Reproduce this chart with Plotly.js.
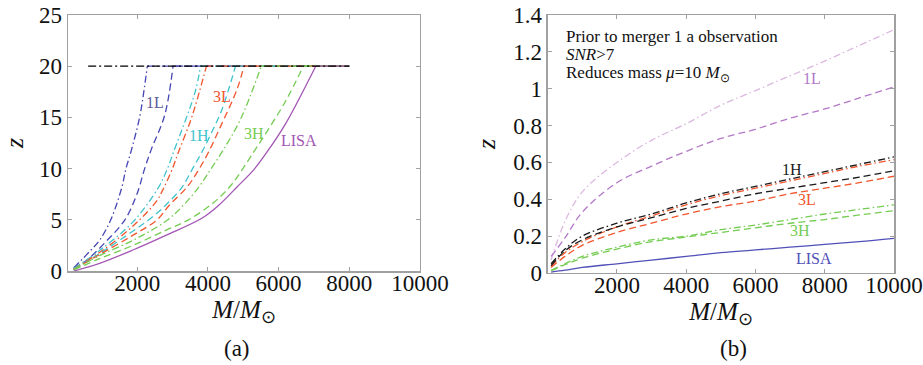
<!DOCTYPE html>
<html><head><meta charset="utf-8">
<script src="https://cdn.plot.ly/plotly-3.0.1.min.js"></script>
<style>html,body{margin:0;padding:0;background:#fff}#chart{width:923px;height:365px}</style>
</head><body><div id="chart"></div>
<script>
// ---------- Panel (a) data: M/Msun (x) and z ----------
const a_1L_dd_x = [200, 650, 932, 1250, 1565, 1680, 1821, 2066, 2180, 2284];
const a_1L_dd_z = [0.3, 1.9, 3.0, 5.0, 8.2, 10, 11.65, 15, 17.4, 20];
const a_1L_da_x = [200, 553, 1121, 1650, 2000, 2200, 2400, 2775, 3012];
const a_1L_da_z = [0.2, 1.0, 2.9, 5.0, 7.6, 9.9, 11.9, 15.2, 20];
const a_1H_dd_x = [200, 930, 1880, 2605, 2842, 3030, 3630, 3790];
const a_1H_dd_z = [0.25, 2.0, 4.8, 8.2, 9.9, 11.65, 17.4, 20];
const a_3L_dd_x = [200, 930, 1880, 2540, 2760, 2984, 3170, 3500, 3700, 3958];
const a_3L_dd_z = [0.2, 1.8, 4.4, 6.8, 8.2, 9.9, 11.65, 14.6, 16.8, 20];
const a_1H_da_x = [200, 930, 1880, 2400, 2823, 3270, 3550, 3835, 4100, 4400, 4780];
const a_1H_da_z = [0.2, 1.7, 3.9, 5.2, 6.5, 8.2, 9.9, 11.65, 13.5, 15.8, 20];
const a_3L_da_x = [200, 930, 1880, 2560, 2900, 3410, 3740, 4023, 4355, 4830, 5017];
const a_3L_da_z = [0.15, 1.6, 3.5, 5.0, 6.4, 8.2, 9.9, 11.65, 14.1, 17.8, 20];
const a_3H_dd_x = [200, 930, 1880, 2823, 3300, 3740, 4071, 4403, 4920, 5510];
const a_3H_dd_z = [0.15, 1.5, 3.0, 4.9, 6.4, 8.2, 9.9, 11.65, 14.8, 20];
const a_3H_da_x = [200, 932, 1877, 2823, 3450, 4166, 4620, 4970, 5300, 5630, 6200, 6700];
const a_3H_da_z = [0.1, 1.2, 2.5, 4.0, 5.0, 6.7, 8.23, 9.9, 11.65, 13.4, 16.6, 20];
const a_LISA_x = [200, 932, 1877, 2823, 3850, 4300, 4830, 5300, 5678, 6200, 7050];
const a_LISA_z = [0.0, 0.75, 2.05, 3.5, 5.2, 6.4, 8.23, 9.9, 11.65, 14.4, 20];
const a_plateau_end = 8000;           // curves stay on z = 20 up to here
const a_limit_x = [610, 8000];        // black dash-dot z = 20 line
const a_limit_z = [20, 20];

// ---------- Panel (b) data ----------
const b_x = [100, 500, 1000, 2000, 3000, 4000, 5000, 6000, 7000, 8000, 9000, 10000];
const b_1L_dd = [0.07, 0.28, 0.44, 0.60, 0.72, 0.81, 0.91, 0.99, 1.07, 1.15, 1.235, 1.32];
const b_1L_da = [0.09, 0.19, 0.33, 0.49, 0.58, 0.66, 0.73, 0.78, 0.84, 0.89, 0.95, 1.01];
const b_1H_dd = [0.05, 0.13, 0.20, 0.27, 0.32, 0.38, 0.43, 0.47, 0.51, 0.55, 0.59, 0.63];
const b_3L_dd = [0.035, 0.11, 0.17, 0.25, 0.31, 0.37, 0.42, 0.46, 0.50, 0.54, 0.58, 0.615];
const b_1H_da = [0.04, 0.12, 0.18, 0.25, 0.30, 0.35, 0.39, 0.43, 0.46, 0.49, 0.52, 0.555];
const b_3L_da = [0.03, 0.09, 0.15, 0.22, 0.27, 0.32, 0.36, 0.39, 0.43, 0.46, 0.49, 0.525];
const b_3H_dd = [0.015, 0.05, 0.09, 0.14, 0.18, 0.20, 0.235, 0.26, 0.29, 0.32, 0.345, 0.37];
const b_3H_da = [0.012, 0.045, 0.08, 0.13, 0.17, 0.195, 0.22, 0.245, 0.27, 0.29, 0.315, 0.338];
const b_LISA = [0.005, 0.015, 0.03, 0.05, 0.07, 0.09, 0.11, 0.125, 0.14, 0.155, 0.17, 0.188];

const tickVals = [2000, 4000, 6000, 8000, 10000];
const tickText = ['2000', '4000', '6000', '8000', '10000'];

const FONT = 'Liberation Serif, Times New Roman, serif';
const DD = '7px,3px,1.5px,3px';
const DA = '7px,4px';
const C = {blue:'#4646b4', cyan:'#3fc3cc', red:'#f0552d', green:'#74cc52', purple:'#a356b4',
           lpurple:'#dcb8e0', mpurple:'#b478c8', black:'#1a1a1a', lblue:'#5050b8'};

function tr(x, y, color, dash, ax, shape) {
  return {x:x, y:y, type:'scatter', mode:'lines', xaxis:ax[0], yaxis:ax[1], hoverinfo:'skip',
          line:{color:color, dash:dash, width:1.3, shape:shape||'spline', smoothing:1}, showlegend:false};
}
function plateau(x, z, color, dash) {
  return tr([x[x.length-1], a_plateau_end], [z[z.length-1], z[z.length-1]], color, dash, A, 'linear');
}
const A = ['x','y'], B = ['x2','y2'];
const aCurves = [
  [a_1L_dd_x, a_1L_dd_z, C.blue, DD],
  [a_1L_da_x, a_1L_da_z, C.blue, DA],
  [a_1H_dd_x, a_1H_dd_z, C.cyan, DD],
  [a_3L_dd_x, a_3L_dd_z, C.red, DD],
  [a_1H_da_x, a_1H_da_z, C.cyan, DA],
  [a_3L_da_x, a_3L_da_z, C.red, DA],
  [a_3H_dd_x, a_3H_dd_z, C.green, DD],
  [a_3H_da_x, a_3H_da_z, C.green, DA],
  [a_LISA_x, a_LISA_z, C.purple, 'solid']
];
const data = [];
aCurves.forEach(c => { data.push(tr(c[0], c[1], c[2], c[3], A)); data.push(plateau(c[0], c[1], c[2], c[3])); });
data.push(tr(a_limit_x, a_limit_z, '#000', '8px,3px,2px,3px', A, 'linear'));
data.push(
  tr(b_x, b_1L_dd, C.lpurple, DD, B),
  tr(b_x, b_1L_da, C.mpurple, DA, B),
  tr(b_x, b_3L_dd, C.red, DD, B),
  tr(b_x, b_1H_dd, C.black, DD, B),
  tr(b_x, b_1H_da, C.black, DA, B),
  tr(b_x, b_3L_da, C.red, DA, B),
  tr(b_x, b_3H_dd, C.green, DD, B),
  tr(b_x, b_3H_da, C.green, DA, B),
  tr(b_x, b_LISA, C.lblue, 'solid', B)
);

const axBase = {showgrid:false, zeroline:false, showline:true, linecolor:'#a0a0a0', linewidth:1.5,
  mirror:'ticks', ticks:'inside', ticklen:4, tickcolor:'#a0a0a0', tickwidth:1,
  ticklabeloverflow:'allow', tickfont:{family:FONT, size:23, color:'#111'}};
const xTitle = {text:'<i>M</i>/<i>M</i><sub>⊙</sub>', font:{family:FONT, size:25, color:'#111'}, standoff:4};
const yTitle = {text:'<i>z</i>', font:{family:FONT, size:26, color:'#111'}, standoff:10};

function lab(text, x, y, color, xref, yref, size) {
  return {text:text, x:x, y:y, xref:xref, yref:yref, xanchor:'center', yanchor:'middle', showarrow:false,
          font:{family:FONT, size:size||16, color:color}};
}
function note(text, yPx) {
  return {text:text, xref:'paper', yref:'paper', x:565/923, y:1-yPx/365, xanchor:'left', yanchor:'middle',
          showarrow:false, borderpad:0, font:{family:FONT, size:17, color:'#111'}};
}
const layout = {
  width:923, height:365, margin:{l:0, r:0, t:0, b:0},
  paper_bgcolor:'#fff', plot_bgcolor:'#fff', showlegend:false,
  xaxis: Object.assign({}, axBase, {domain:[0.0737, 0.4550], range:[40, 10001], tickvals:tickVals,
          ticktext:tickText, ticklabelstandoff:-9, title:xTitle, anchor:'y'}),
  yaxis: Object.assign({}, axBase, {domain:[0.2575, 0.9589], range:[0, 25], dtick:5,
          title:yTitle, anchor:'x'}),
  xaxis2: Object.assign({}, axBase, {domain:[0.5937, 0.9686], range:[10, 10001], tickvals:tickVals,
          ticktext:tickText, ticklabelstandoff:-9, title:xTitle, anchor:'y2'}),
  yaxis2: Object.assign({}, axBase, {domain:[0.2521, 0.9589], range:[0, 1.4], dtick:0.2,
          title:yTitle, anchor:'x2'}),
  annotations: [
    lab('1L', 2510, 16.5, '#5a5a9a', 'x', 'y'),
    lab('3L', 4411, 17.0, C.red, 'x', 'y'),
    lab('1H', 3759, 13.2, C.cyan, 'x', 'y'),
    lab('3H', 5290, 13.4, C.green, 'x', 'y'),
    lab('LISA', 6567, 12.7, C.purple, 'x', 'y'),
    lab('1L', 7630, 1.058, C.mpurple, 'x2', 'y2'),
    lab('1H', 7050, 0.564, C.black, 'x2', 'y2'),
    lab('3L', 7500, 0.40, C.red, 'x2', 'y2'),
    lab('3H', 7300, 0.232, C.green, 'x2', 'y2'),
    lab('LISA', 7690, 0.08, C.lblue, 'x2', 'y2'),
    note('Prior to merger 1 a observation', 36),
    note('<i>SNR</i>&gt;7', 55),
    note('Reduces mass <i>μ</i>=10 <i>M</i><sub>⊙</sub>', 74),
    lab('(a)', 237/923, 1-348/365, '#111', 'paper', 'paper', 23),
    lab('(b)', 733/923, 1-348/365, '#111', 'paper', 'paper', 23)
  ]
};
Plotly.newPlot('chart', data, layout, {staticPlot:true, displayModeBar:false});
</script></body></html>
